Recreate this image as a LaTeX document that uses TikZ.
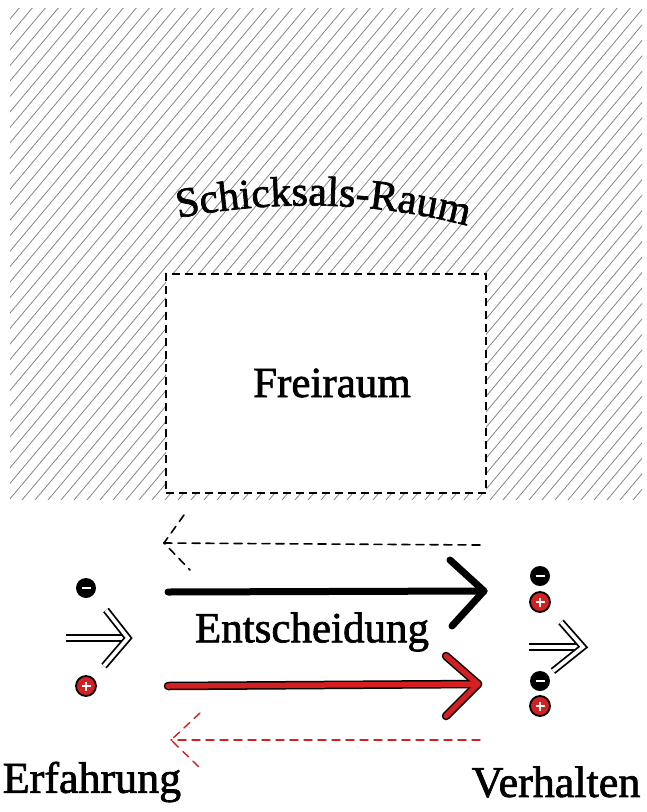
\documentclass[tikz,border=0pt]{standalone}
\usepackage{fontspec}
\setmainfont{Liberation Serif}
\newfontfamily\hand{Liberation Serif}[FakeBold=1.6]
\usetikzlibrary{decorations.text,calc}
\definecolor{hred}{HTML}{D42020}
\tikzset{
  x=1pt,y=1pt,
  hatch/.style={draw=black!50, line width=0.75pt},
  lbl/.style={inner sep=0pt, font=\hand\fontsize{43}{43}\selectfont},
  freebox/.style={draw=black, fill=white, line width=1.6pt, dash pattern=on 8pt off 5pt},
  dasharrow/.style={line width=1.6pt, dash pattern=on 8pt off 6pt, line cap=round},
  bigarrow/.style={line width=7pt, line cap=round, line join=round},
  openarrow/.style={draw=black, line width=1.8pt, double=white, double distance=3.6pt, line join=miter},
  minusdot/.style={circle, fill=black, minimum size=20pt, inner sep=0pt},
  plusdot/.style={circle, fill=hred, draw=black, line width=1.8pt, minimum size=20pt, inner sep=0pt},
}
\newcommand{\mdot}[2]{\node[minusdot] (#1) at (#2) {}; \draw[white, line width=2.8pt] ($(#1)+(-4.5,0)$) -- ($(#1)+(4.5,0)$);}
\newcommand{\pdot}[2]{\node[plusdot] (#1) at (#2) {}; \draw[white, line width=2.8pt] ($(#1)+(-4.5,0)$) -- ($(#1)+(4.5,0)$) ($(#1)+(0,-4.5)$) -- ($(#1)+(0,4.5)$);}
\begin{document}
\begin{tikzpicture}
\useasboundingbox (0,0) rectangle (646,-812);
% hatched Schicksals-Raum
\begin{scope}
  \clip (10,-8) rectangle (642,-500);
  \foreach \i in {-420,-407,...,650} {
    \draw[hatch] (\i,-500) -- ++(420,500);
  }
\end{scope}
% arched title
\path[decorate, decoration={text along path, text align=center,
  text={|\hand\fontsize{42}{42}\selectfont|Schicksals-Raum}}]
  (150,-224) .. controls (270,-196) and (390,-200) .. (495,-234);
% Freiraum box
\node[freebox, minimum width=320pt, minimum height=219pt, anchor=north west] (box) at (165,-273) {};
\node[lbl] (frei) at (332,-383) {Freiraum};

% black dashed return arrow
\coordinate (bdS) at (480,-545);
\coordinate (bdE) at (164,-543);
\coordinate (bdW1) at (184,-515);
\coordinate (bdW2) at (190,-570);
\draw[dasharrow] (bdS) -- (bdE);
\draw[dasharrow] (bdW1) -- (bdE) -- (bdW2);

% black main arrow
\coordinate (baS) at (168,-592);
\coordinate (baE) at (484,-591);
\coordinate (baW1) at (450,-560);
\coordinate (baW2) at (452,-626);
\draw[bigarrow] (baS) -- (baE);
\draw[bigarrow] (baW1) -- (baE) -- (baW2);

\node[lbl] (ent) at (312,-632) {Entscheidung};

% red main arrow
\coordinate (raS) at (168,-686);
\coordinate (raE) at (478,-684);
\coordinate (raW1) at (446,-656);
\coordinate (raW2) at (446,-716);
\draw[bigarrow, line width=8.5pt, black] (raS) -- (raE);
\draw[bigarrow, line width=8.5pt, black] (raW1) -- (raE) -- (raW2);
\draw[bigarrow, line width=5.5pt, hred] (raS) -- (raE);
\draw[bigarrow, line width=5.5pt, hred] (raW1) -- (raE) -- (raW2);

% red dashed return arrow
\coordinate (rdS) at (480,-740);
\coordinate (rdE) at (171,-740);
\coordinate (rdW1) at (200,-713);
\coordinate (rdW2) at (200,-768);
\draw[dasharrow, hred, line width=1.4pt] (rdS) -- (rdE);
\draw[dasharrow, hred, line width=1.4pt] (rdW1) -- (rdE) -- (rdW2);

% left side
\mdot{lm}{86,-588}
\pdot{lp}{86,-686}
\coordinate (loS) at (66,-638);
\coordinate (loE) at (128,-638);
\coordinate (loW1) at (106,-610);
\coordinate (loW2) at (104,-666);
\draw[openarrow] (loS) -- (loE);
\draw[openarrow] (loW1) -- (loE) -- (loW2);

% right side
\mdot{rm1}{540,-576}
\pdot{rp1}{540,-602}
\mdot{rm2}{540,-681}
\pdot{rp2}{540,-706}
\coordinate (roS) at (529,-647);
\coordinate (roE) at (583,-647);
\coordinate (roW1) at (561,-622);
\coordinate (roW2) at (553,-671);
\draw[openarrow] (roS) -- (roE);
\draw[openarrow] (roW1) -- (roE) -- (roW2);

% bottom labels
\node[lbl, font=\hand\fontsize{44}{44}\selectfont] (erf) at (92,-782) {Erfahrung};
\node[lbl, font=\hand\fontsize{44}{44}\selectfont] (ver) at (556,-782) {Verhalten};
\end{tikzpicture}
\end{document}
